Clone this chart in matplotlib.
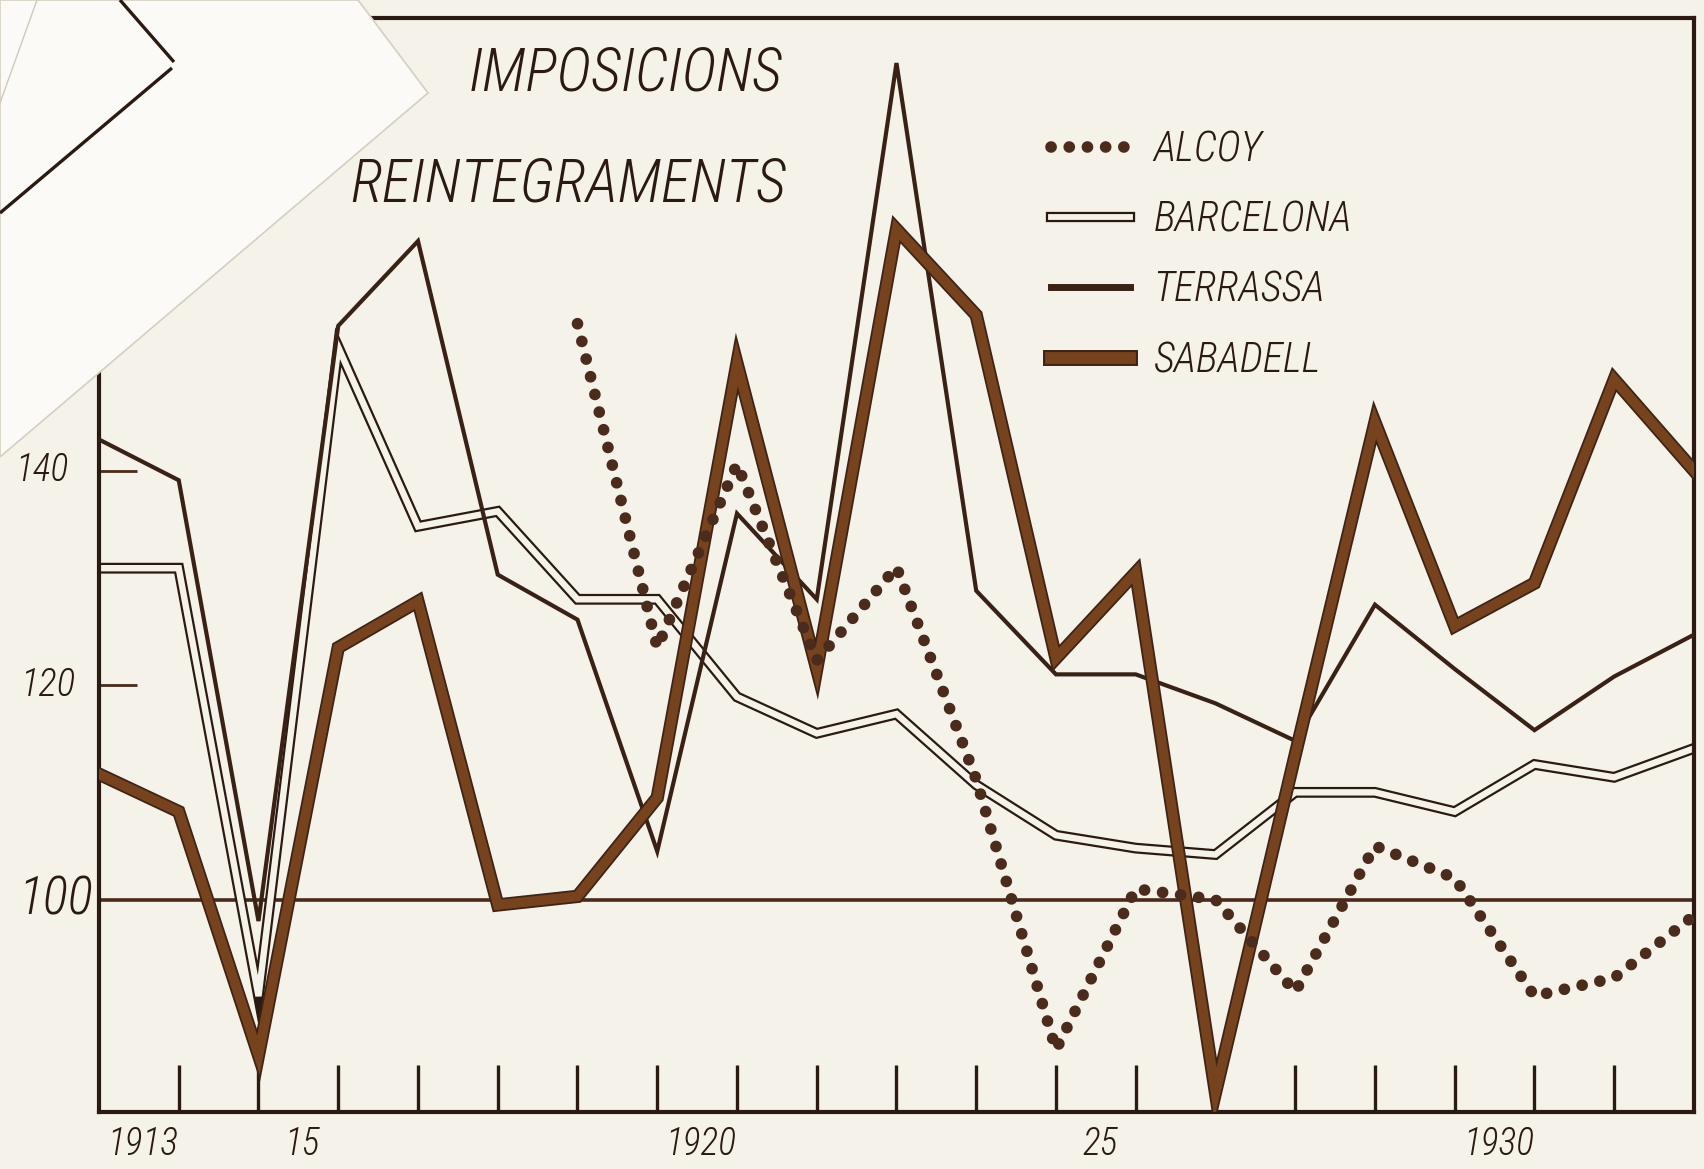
import numpy as np
import matplotlib
matplotlib.use("Agg")
import matplotlib.pyplot as plt
from matplotlib import font_manager
from matplotlib.lines import Line2D
from matplotlib.legend_handler import HandlerTuple
from matplotlib.patches import Polygon

# ---------------------------------------------------------------
# Data: index values (100 = base)
# ---------------------------------------------------------------
years = np.arange(1913, 1934)

terrassa = [142.9, 139.1, 98.0, 153.5, 161.4, 130.3, 126.1, 104.5, 136.0, 128.0,
            178.0, 128.8, 121.0, 121.0, 118.3, 114.8, 127.5, 121.5, 115.8, 120.8, 124.7]
barcelona = [130.9, 130.9, 91.0, 151.5, 134.8, 136.2, 128.0, 128.0, 118.9, 115.5,
             117.3, 110.7, 106.0, 104.8, 104.2, 110.0, 110.0, 108.2, 112.6, 111.4, 114.1]
sabadell = [111.7, 108.2, 85.5, 123.5, 127.8, 99.5, 100.3, 109.5, 150.0, 121.5,
            162.5, 154.5, 122.5, 130.5, 82.0, 113.5, 144.5, 125.5, 129.5, 148.5, 140.0]

alcoy_years = np.arange(1919, 1934)
alcoy = [153.7, 123.5, 140.6, 122.3, 131.0, 111.2, 86.0, 101.0, 100.0, 91.4,
         105.0, 102.0, 91.0, 92.7, 98.5]

series_labels = ["ALCOY", "BARCELONA", "TERRASSA", "SABADELL"]
title_lines = ["IMPOSICIONS", "REINTEGRAMENTS"]

x_label_years = [1913, 1915, 1920, 1925, 1930]
x_label_text = ["1913", "15", "1920", "25", "1930"]
y_label_vals = [140, 120, 100]

# ---------------------------------------------------------------
# style
# ---------------------------------------------------------------
paper = "#f5f2ea"
ink = "#2a1a12"
ter_c = "#3a2115"
sab_edge = "#3f2415"
sab_fill = "#77431f"
dot_c = "#4b2b1b"

available = {f.name for f in font_manager.fontManager.ttflist}
font = "DejaVu Sans"
for cand in ["Liberation Sans Narrow", "Roboto Condensed", "Open Sans Condensed",
             "Noto Sans Condensed", "DejaVu Sans"]:
    if cand in available:
        font = cand
        break
txt = dict(family=font, style="italic", weight="light", color=ink)

fig = plt.figure(figsize=(17.04, 11.69), dpi=100, facecolor=paper)
ax = fig.add_axes([0.0581, 0.0488, 0.936, 0.9358])
ax.set_facecolor(paper)

ax.set_xlim(1913, 1933)
ax.set_ylim(80.2, 182.2)

# base line at 100
ax.axhline(100, color="#4a2a1a", lw=2.6, zorder=1)

# Barcelona: double line
ax.plot(years, barcelona, color=ink, lw=7.8, solid_joinstyle="miter", zorder=2)
ax.plot(years, barcelona, color=paper, lw=4.6, solid_joinstyle="miter", zorder=2.1)

# Terrassa
ax.plot(years, terrassa, color=ter_c, lw=3.0, solid_joinstyle="miter", zorder=3)

# Sabadell: thick brown band
ax.plot(years, sabadell, color=sab_edge, lw=9.6, solid_joinstyle="miter", zorder=4)
ax.plot(years, sabadell, color=sab_fill, lw=7.0, solid_joinstyle="miter", zorder=4.1)

# Alcoy: round dots
ax.plot(alcoy_years, alcoy, color=dot_c, lw=8.4, ls=(0, (0.01, 1.55)),
        dash_capstyle="round", zorder=5)

# frame and ticks
for s in ax.spines.values():
    s.set_color(ink)
    s.set_linewidth(3.0)

ax.set_xticks(np.arange(1914, 1933))
ax.tick_params(axis="x", direction="in", length=34, width=2.4, color=ink,
               labelbottom=False)
ax.set_yticks([120, 140])
ax.tick_params(axis="y", direction="in", length=27, width=2.0, color="#4a2a1a",
               labelleft=False)

# tick labels written like the hand lettering (shifted right of the ticks)
for yr, lab in zip(x_label_years, x_label_text):
    ax.text(yr + 0.55, -0.03, lab, transform=ax.get_xaxis_transform(),
            ha="center", va="center", fontsize=27, **txt)

y_lab_x = {140: -0.036, 120: -0.032, 100: -0.027}
y_lab_size = {140: 27, 120: 28, 100: 38}
for v in y_label_vals:
    ax.text(y_lab_x[v], v, str(v), transform=ax.get_yaxis_transform(),
            ha="center", va="center", fontsize=y_lab_size[v], **txt)

# titles
fig.text(0.367, 0.937, title_lines[0], ha="center", va="center", fontsize=43, **txt)
fig.text(0.3335, 0.842, title_lines[1], ha="center", va="center", fontsize=43, **txt)

# legend
h_alcoy = Line2D([], [], color=dot_c, lw=8.4, ls=(0, (0.01, 1.55)), dash_capstyle="round")
h_bcn = (Line2D([], [], color=ink, lw=7.4), Line2D([], [], color=paper, lw=4.2))
h_ter = Line2D([], [], color=ter_c, lw=5.0)
h_sab = (Line2D([], [], color=sab_edge, lw=11.5), Line2D([], [], color=sab_fill, lw=8.5))
leg = ax.legend([h_alcoy, h_bcn, h_ter, h_sab], series_labels,
                handler_map={tuple: HandlerTuple(ndivide=1, pad=0)},
                loc="upper left", bbox_to_anchor=(0.584, 0.917), frameon=False,
                borderpad=0, handlelength=1.9, handletextpad=0.55, labelspacing=0.7,
                prop=dict(family=font, style="italic", weight="light", size=30))
for t in leg.get_texts():
    t.set_color(ink)

# scrap of another sheet lying over the upper-left corner of the photo
ov = fig.add_axes([0, 0, 1, 1], zorder=10)
ov.set_xlim(0, 1704)
ov.set_ylim(1169, 0)
ov.axis("off")
ov.patch.set_alpha(0)
ov.add_patch(Polygon([(0, 0), (358, 0), (428, 93), (0, 457)], closed=True,
                     fc="#fbfaf7", ec="#d6cfc1", lw=1.2))
ov.plot([0, 37], [103, 0], color="#cfc9bc", lw=1.0)
ov.plot([120, 174], [0, 62], color=ink, lw=2.4, solid_capstyle="butt")
ov.plot([172, 0], [68, 213], color=ink, lw=2.4, solid_capstyle="butt")

fig.savefig("out.png", dpi=100, facecolor=paper)
